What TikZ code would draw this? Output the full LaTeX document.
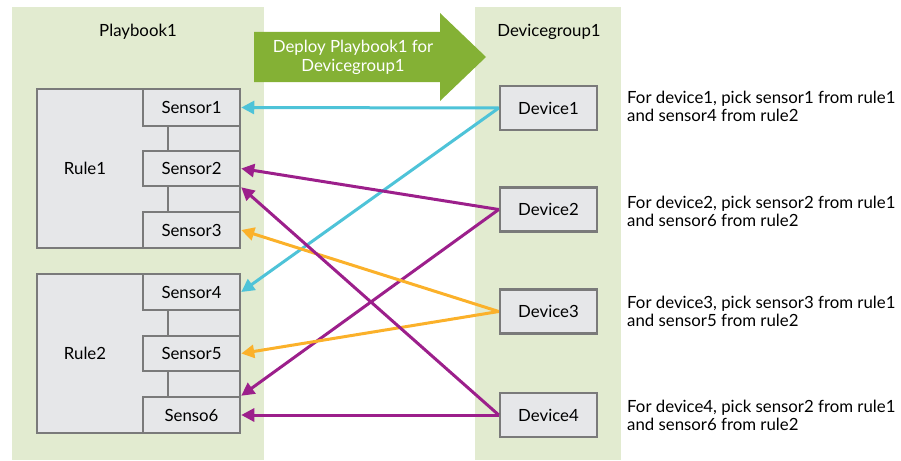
\documentclass[tikz,border=0pt]{standalone}
\usepackage{fontspec}
\setmainfont{Lato}
\usetikzlibrary{arrows.meta}
\definecolor{panelc}{HTML}{E2EBD0}
\definecolor{boxc}{HTML}{E6E7E9}
\definecolor{borderc}{HTML}{7A7A7A}
\definecolor{greenc}{HTML}{84B135}
\definecolor{cyanc}{HTML}{4EC3D8}
\definecolor{purplec}{HTML}{9C1F8B}
\definecolor{orangec}{HTML}{FBB12A}
\tikzset{
  panel/.style={fill=panelc, draw=none},
  rulebox/.style={fill=boxc, draw=borderc, line width=2.5pt},
  sensorbox/.style={fill=boxc, draw=borderc, line width=2.5pt, minimum width=97pt, inner sep=0pt, font=\fontsize{16.8}{19}\selectfont},
  devbox/.style={fill=boxc, draw=borderc, line width=2.5pt, minimum width=97pt, minimum height=44pt, inner sep=0pt, font=\fontsize{16.8}{19}\selectfont},
  lbl/.style={font=\fontsize{16.8}{19}\selectfont, inner sep=0pt},
  note/.style={font=\fontsize{16.8}{18}\selectfont, align=left, anchor=west, inner sep=0pt},
  link/.style={line width=3pt, -{Triangle[length=13pt,width=13pt]}},
  joint/.style={draw=borderc, line width=2.5pt}
}
\begin{document}
\begin{tikzpicture}[x=1pt,y=-1pt]
\useasboundingbox (0,0) rectangle (901,460);
% panels
\fill[panel] (12,7) rectangle (264,460);
\fill[panel] (475,7) rectangle (621,460);
\node[lbl] (pbl) at (138,32) {Playbook1};
\node[lbl] (dgl) at (549,32) {Devicegroup1};
% green arrow
\fill[greenc] (254,32) -- (440,32) -- (440,13) -- (486,57) -- (440,101) -- (440,82) -- (254,82) -- cycle;
\node[lbl, text=white, align=center, font=\fontsize{16.8}{19}\selectfont] (dep) at (353,57) {Deploy Playbook1 for\\Devicegroup1};
% rules
\node[rulebox, minimum width=203pt, minimum height=159pt, inner sep=0pt] (r1) at (138.5,168.5) {};
\node[lbl] (r1l) at (85,168) {Rule1};
\node[rulebox, minimum width=203pt, minimum height=159pt, inner sep=0pt] (r2) at (138.5,353.5) {};
\node[lbl] (r2l) at (85,353) {Rule2};
% sensors
\node[sensorbox, minimum height=37pt] (s1) at (191.5,107.5) {Sensor1};
\node[sensorbox, minimum height=35pt] (s2) at (191.5,168.5) {Sensor2};
\node[sensorbox, minimum height=36pt] (s3) at (191.5,230) {Sensor3};
\node[sensorbox, minimum height=36pt] (s4) at (191.5,292) {Sensor4};
\node[sensorbox, minimum height=35pt] (s5) at (191.5,353.5) {Sensor5};
\node[sensorbox, minimum height=36pt] (s6) at (191.5,415) {Senso6};
\draw[joint] (s1.south -| 168,0) -- (s2.north -| 168,0);
\draw[joint] (s2.south -| 168,0) -- (s3.north -| 168,0);
\draw[joint] (s4.south -| 168,0) -- (s5.north -| 168,0);
\draw[joint] (s5.south -| 168,0) -- (s6.north -| 168,0);
% devices
\node[devbox] (d1) at (548.5,108) {Device1};
\node[devbox] (d2) at (548.5,209.5) {Device2};
\node[devbox] (d3) at (548.5,311.5) {Device3};
\node[devbox] (d4) at (548.5,415) {Device4};
% notes
\node[note] (n1) at (627,106.5) {For device1, pick sensor1 from rule1\\and sensor4 from rule2};
\node[note] (n2) at (627,211) {For device2, pick sensor2 from rule1\\and sensor6 from rule2};
\node[note] (n3) at (627,311.5) {For device3, pick sensor3 from rule1\\and sensor5 from rule2};
\node[note] (n4) at (627,415) {For device4, pick sensor2 from rule1\\and sensor6 from rule2};
% links
\draw[link, cyanc] (d1.west) -- (s1.east);
\draw[link, cyanc] (d1.west) -- (s4.east);
\draw[link, purplec] (d2.west) -- (s2.east);
\draw[link, purplec] (d2.west) -- (s6.north east);
\draw[link, orangec] (d3.west) -- (s3.east);
\draw[link, orangec] (d3.west) -- (s5.east);
\draw[link, purplec] (d4.west) -- (s6.east);
\draw[link, purplec] (d4.west) -- (s2.south east);
\end{tikzpicture}
\end{document}
